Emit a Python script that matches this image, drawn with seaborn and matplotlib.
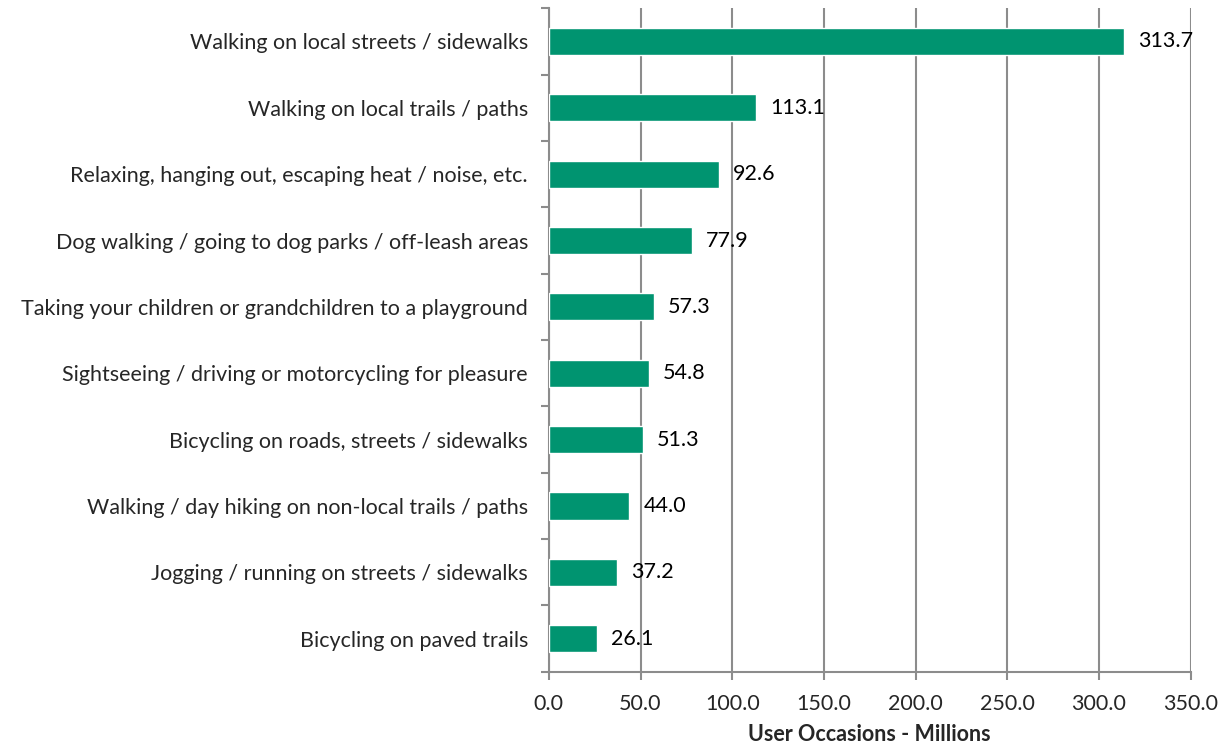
import numpy as np
import pandas as pd
import matplotlib
matplotlib.use("Agg")
import matplotlib.pyplot as plt
import seaborn as sns

# Data
ACTIVITIES = [
    "Walking on local streets / sidewalks",
    "Walking on local trails / paths",
    "Relaxing, hanging out, escaping heat / noise, etc.",
    "Dog walking / going to dog parks / off-leash areas",
    "Taking your children or grandchildren to a playground",
    "Sightseeing / driving or motorcycling for pleasure",
    "Bicycling on roads, streets / sidewalks",
    "Walking / day hiking on non-local trails / paths",
    "Jogging / running on streets / sidewalks",
    "Bicycling on paved trails",
]
OCCASIONS = [313.7, 113.1, 92.6, 77.9, 57.3, 54.8, 51.3, 44.0, 37.2, 26.1]
X_TICKS = [0, 50, 100, 150, 200, 250, 300, 350]

BAR_COLOR = "#009470"
GRID_COLOR = "#8c8c8c"
FS = 15.5

sns.set_theme(style="white")
plt.rcParams["font.family"] = ["Lato", "DejaVu Sans"]

df = pd.DataFrame({"activity": ACTIVITIES, "occasions": OCCASIONS})

fig = plt.figure(figsize=(12.25, 7.49), dpi=100)
ax = fig.add_axes([0.448, 0.103, 0.524, 0.886])

sns.barplot(data=df, x="occasions", y="activity", orient="h",
            color=BAR_COLOR, saturation=1, width=0.41, ax=ax, zorder=3)

ax.bar_label(ax.containers[0], fmt="%.1f", padding=10, fontsize=FS, color="black")

ax.set_xlim(0, 350)
ax.set_ylim(len(ACTIVITIES) - 0.5, -0.5)
ax.set_xticks(X_TICKS)
ax.set_xticklabels([f"{v:.1f}" for v in X_TICKS], fontsize=FS)
ax.tick_params(axis="x", length=6, width=1.5, color=GRID_COLOR, pad=10, bottom=True)

# category labels at centres, tick marks at the boundaries
ax.tick_params(axis="y", which="major", length=0, pad=15, labelsize=FS)
ax.set_yticks(np.arange(-0.5, len(ACTIVITIES), 1.0), minor=True)
ax.tick_params(axis="y", which="minor", length=6, width=1.5, color=GRID_COLOR, left=True)

ax.grid(axis="x", color=GRID_COLOR, linewidth=1.5, zorder=0)
ax.set_axisbelow(True)

for side in ["top", "right"]:
    ax.spines[side].set_visible(False)
for side in ["left", "bottom"]:
    ax.spines[side].set_color(GRID_COLOR)
    ax.spines[side].set_linewidth(1.5)

ax.set_ylabel("")
ax.set_xlabel("User Occasions - Millions", fontsize=FS, fontweight="bold", labelpad=7)

fig.savefig("out.png", dpi=100)
